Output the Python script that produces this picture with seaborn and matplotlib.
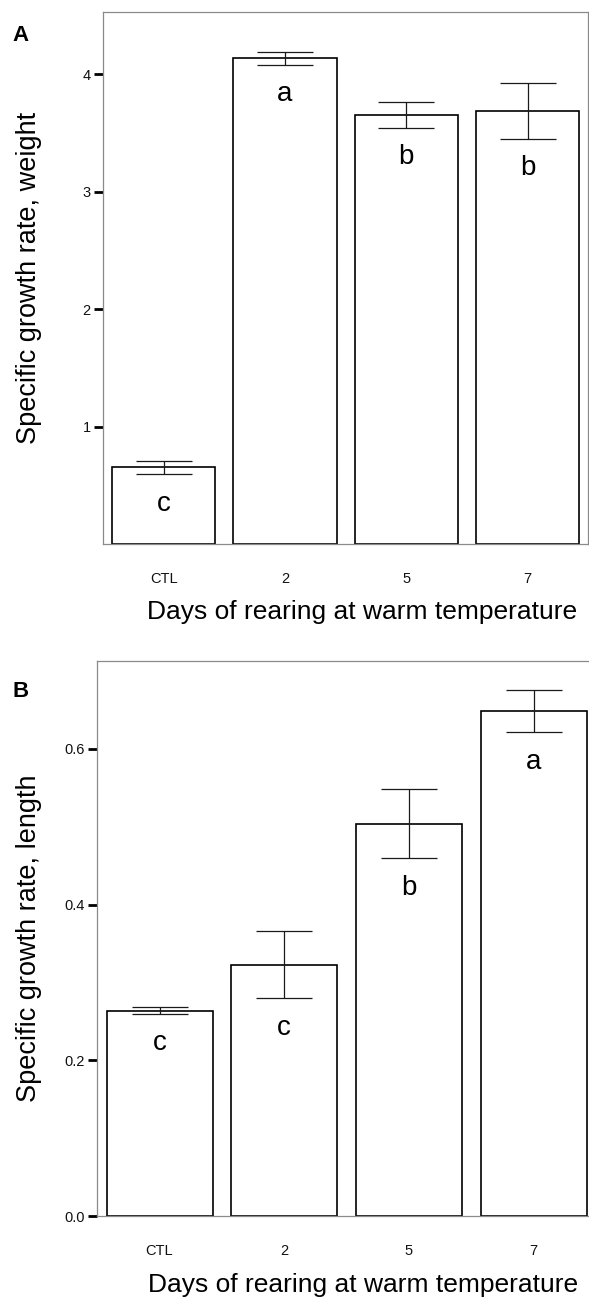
import matplotlib
matplotlib.use("Agg")
import matplotlib.pyplot as plt
import seaborn as sns
import pandas as pd

# Treatment groups (days at warm temperature)
days = ["CTL", "2", "5", "7"]

# Panel A: specific growth rate by weight (mean, SE)
sgr_weight = [0.655, 4.137, 3.657, 3.687]
sgr_weight_se = [0.055, 0.055, 0.110, 0.235]
letters_weight = ["c", "a", "b", "b"]

# Panel B: specific growth rate by length (mean, SE)
sgr_length = [0.264, 0.323, 0.504, 0.649]
sgr_length_se = [0.004, 0.043, 0.044, 0.027]
letters_length = ["c", "c", "b", "a"]

weight_ticks = [1, 2, 3, 4]
length_ticks = [0.0, 0.2, 0.4, 0.6]

sns.set_theme(style="white")
plt.rcParams["font.family"] = ["Liberation Sans", "DejaVu Sans"]
plt.rcParams["text.color"] = "black"
plt.rcParams["axes.labelcolor"] = "black"
plt.rcParams["xtick.color"] = "black"
plt.rcParams["ytick.color"] = "black"

W, H = 589, 1303
fig = plt.figure(figsize=(W / 100, H / 100), dpi=100)

SPINE = "#8a8a8a"


def panel(rect, values, errs, letters, ticks, ylim, ylabel, fmt, label_x, xlabel_x, xlabel_y):
    ax = fig.add_axes(rect)
    df = pd.DataFrame({"day": days, "sgr": values})
    sns.barplot(data=df, x="day", y="sgr", order=days, color="white",
                saturation=1, edgecolor="black", linewidth=1.2, width=0.85,
                errorbar=None, ax=ax)
    ax.errorbar(range(len(days)), values, yerr=errs, fmt="none",
                ecolor="#1a1a1a", elinewidth=0.9, capsize=20, capthick=0.9,
                zorder=5)
    for i, (v, e, t) in enumerate(zip(values, errs, letters)):
        ax.annotate(t, (i, v - e), xytext=(0, -26.5), textcoords="offset points",
                    ha="center", va="baseline", fontsize=20, color="black")
    ax.set_xlim(-0.5, len(days) - 0.5)
    ax.set_ylim(*ylim)
    ax.set_yticks(ticks)
    ax.set_yticklabels([fmt.format(t) for t in ticks])
    ax.tick_params(axis="y", which="major", left=True, length=6.3, width=2.0,
                   color="black", pad=2.6, labelsize=10.5, labelcolor="#111111")
    ax.tick_params(axis="x", bottom=False, pad=14, labelsize=10.5,
                   labelcolor="#111111")
    for s in ax.spines.values():
        s.set_visible(True)
        s.set_color(SPINE)
        s.set_linewidth(0.9)
    ax.set_ylabel(ylabel, fontsize=19.5, color="black")
    ax.yaxis.set_label_coords(label_x, 0.5)
    ax.set_xlabel("Days of rearing at warm temperature", fontsize=19,
                  color="black")
    ax.xaxis.set_label_coords(xlabel_x, xlabel_y)
    return ax


# Panel A
panel([103 / W, 1 - 544.3 / H, 485.3 / W, 532.3 / H],
      sgr_weight, sgr_weight_se, letters_weight, weight_ticks, (0, 4.53),
      "Specific growth rate, weight", "{:g}", -0.126, 0.534, -0.105)

# Panel B
panel([97.2 / W, 1 - 1216 / H, 498.7 / W, 555 / H],
      sgr_length, sgr_length_se, letters_length, length_ticks, (0, 0.713),
      "Specific growth rate, length", "{:.1f}", -0.111, 0.533, -0.103)

fig.text(12 / W, 1 - 41 / H, "A", fontsize=16, fontweight="bold",
         color="black", ha="left", va="baseline")
fig.text(12 / W, 1 - 697 / H, "B", fontsize=16, fontweight="bold",
         color="black", ha="left", va="baseline")

fig.savefig("out.png", dpi=100, facecolor="white")
